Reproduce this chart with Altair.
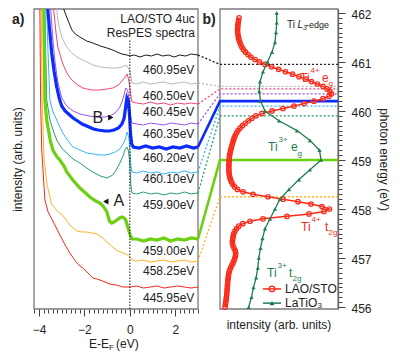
import altair as alt
import pandas as pd

FONT = "Liberation Sans"

# ---------------- panel a: ResPES spectra (E - E_F in eV, intensity in arb. units) ----------------
SPEC_LABELS = ["460.95", "460.50", "460.45", "460.35", "460.20",
               "460.10", "459.90", "459.00", "458.25", "445.95"]
SPEC_COLORS = ["#1a1a1a", "#b9b9b9", "#f0457c", "#a04ff0", "#0b2bff",
               "#33b6f3", "#23a06d", "#6bcf12", "#ffb320", "#f2291c"]
THICK = ["460.20", "459.00"]

SPEC_E = [
    [-3.05, -2.9, -2.73, -2.55, -2.4, -2.2, -1.9, -1.63, -1.3, -1.01, -0.75, -0.57, -0.35, -0.13, 0.0,
     0.2, 0.45, 0.7, 0.95, 1.2, 1.45, 1.7, 1.95, 2.2, 2.45, 2.7, 3.0],
    [-3.3, -3.22, -3.13, -3.0, -2.78, -2.55, -2.33, -1.98, -1.63, -1.3, -0.88, -0.6, -0.35, -0.15, 0.0,
     0.1, 0.3, 0.6, 0.9, 1.2, 1.5, 1.8, 2.1, 2.4, 2.7, 3.0],
    [-3.42, -3.35, -3.25, -3.17, -2.95, -2.75, -2.56, -2.3, -2.07, -1.7, -1.32, -1.0, -0.75, -0.5, -0.31,
     -0.2, -0.12, -0.06, 0.0, 0.05, 0.1, 0.3, 0.6, 0.9, 1.2, 1.5, 1.8, 2.1, 2.4, 2.7, 3.0],
    [-3.55, -3.48, -3.4, -3.3, -3.17, -3.0, -2.78, -2.5, -2.2, -1.8, -1.45, -1.1, -0.88, -0.65, -0.44,
     -0.3, -0.18, -0.1, -0.04, 0.02, 0.09, 0.3, 0.6, 0.9, 1.2, 1.5, 1.8, 2.1, 2.4, 2.7, 3.0],
    [-3.68, -3.61, -3.52, -3.44, -3.33, -3.22, -3.1, -3.0, -2.85, -2.7, -2.5, -2.3, -2.1, -1.9, -1.6,
     -1.4, -1.1, -0.9, -0.7, -0.5, -0.35, -0.25, -0.18, -0.13, -0.07, -0.02, 0.03, 0.08, 0.15, 0.4,
     0.7, 1.0, 1.3, 1.6, 1.9, 2.2, 2.5, 2.8, 3.0],
    [-3.72, -3.66, -3.6, -3.52, -3.4, -3.22, -3.08, -2.95, -2.75, -2.51, -2.2, -1.89, -1.6, -1.32, -1.1,
     -0.88, -0.65, -0.44, -0.3, -0.2, -0.12, -0.05, 0.0, 0.04, 0.09, 0.3, 0.6, 0.9, 1.2, 1.5, 1.8,
     2.1, 2.4, 2.7, 3.0],
    [-3.8, -3.74, -3.7, -3.66, -3.52, -3.35, -3.22, -3.0, -2.78, -2.5, -2.2, -1.9, -1.63, -1.3, -1.01,
     -0.75, -0.6, -0.44, -0.3, -0.22, -0.13, -0.06, 0.0, 0.04, 0.09, 0.3, 0.6, 0.9, 1.2, 1.5, 1.8,
     2.1, 2.4, 2.7, 3.0],
    [-3.85, -3.79, -3.76, -3.74, -3.66, -3.5, -3.39, -3.2, -3.08, -2.9, -2.78, -2.51, -2.2, -1.95, -1.76,
     -1.5, -1.32, -1.15, -1.01, -0.9, -0.8, -0.7, -0.57, -0.45, -0.35, -0.25, -0.18, -0.09, 0.0, 0.09,
     0.3, 0.6, 0.9, 1.2, 1.5, 1.8, 2.1, 2.4, 2.7, 3.0],
    [-3.95, -3.9, -3.86, -3.78, -3.65, -3.45, -3.2, -2.97, -2.8, -2.64, -2.33, -2.1, -1.9, -1.65, -1.45,
     -1.2, -1.01, -0.8, -0.6, -0.4, -0.2, -0.1, 0.0, 0.1, 0.3, 0.6, 0.9, 1.2, 1.5, 1.8, 2.1, 2.4,
     2.7, 3.0],
    [-4.0, -3.96, -3.93, -3.88, -3.8, -3.74, -3.6, -3.39, -3.08, -2.85, -2.64, -2.4, -2.2, -2.07, -1.8,
     -1.63, -1.45, -1.2, -0.88, -0.6, -0.31, 0.0, 0.3, 0.6, 0.9, 1.2, 1.5, 1.8, 2.1, 2.4, 2.7, 3.0],
]
SPEC_I = [
    [320, 299, 289, 279, 275, 272, 268, 266, 263, 261, 259, 257, 255, 254, 253,
     254, 252, 254, 253, 255, 253, 254, 252, 254, 253, 255, 254],
    [320, 299, 284, 272, 262, 256, 252, 248, 244, 242, 241, 241, 242, 244, 238,
     226, 225, 227, 225, 226, 227, 225, 226, 227, 225, 226],
    [320, 299, 276, 262, 245, 235, 229, 224, 221, 219, 219, 220, 221, 224, 229,
     232, 235, 230, 222, 212, 207, 206, 205, 207, 205, 206, 204, 206, 205, 206, 205],
    [320, 299, 272, 248, 227, 211, 203, 198, 195, 193, 192, 192, 193, 196, 202,
     210, 221, 219, 210, 195, 186, 185, 184, 186, 185, 184, 186, 185, 184, 186, 185],
    [320, 299, 276, 256, 237, 222, 210, 203, 198, 195, 191, 188, 185, 183, 180,
     179, 178, 178, 179, 181, 185, 191, 203, 211, 208, 196, 175, 165, 162, 161,
     163, 161, 162, 160, 162, 161, 163, 161, 162],
    [320, 299, 255, 209, 198, 189, 182, 176, 169, 162, 159, 156, 155, 154, 154,
     155, 157, 160, 165, 170, 177, 172, 160, 145, 137, 136, 138, 136, 137, 135, 137,
     136, 138, 136, 137],
    [320, 299, 250, 209, 189, 177, 169, 161, 156, 150, 146, 141, 137, 133, 131,
     134, 139, 146, 153, 159, 162, 158, 145, 125, 116, 115, 117, 115, 116, 114, 116,
     115, 117, 115, 116],
    [320, 299, 250, 209, 189, 168, 159, 152, 149, 143, 137, 129, 121, 116, 112,
     108, 106, 102, 97, 88, 86, 87, 89, 91, 92, 91, 89, 82, 75, 70,
     70, 68, 70, 69, 71, 68, 70, 69, 71, 70],
    [320, 299, 209, 150, 125, 105, 98, 94, 89, 84, 78, 77, 77, 76, 75,
     71, 67, 63, 59, 57, 55, 54, 52, 49, 48, 49, 47, 48, 49, 47, 48, 49,
     47, 48],
    [320, 299, 209, 160, 130, 109, 97, 88, 74, 64, 56, 48, 43, 41, 35,
     31, 30, 28, 25, 24, 22, 22, 23, 21, 22, 23, 21, 22, 23, 22, 21, 22],
]

# ---------------- panel b: Ti L3-edge XAS (photon energy in eV, intensity in arb. units) ----------------
LAO_E = [
    456.00, 456.05, 456.10, 456.15, 456.20, 456.25, 456.30, 456.35, 456.40, 456.45,
    456.50, 456.55, 456.60, 456.65, 456.70, 456.75, 456.80, 456.85, 456.90, 456.95,
    457.00, 457.05, 457.10, 457.15, 457.20, 457.25, 457.30, 457.35, 457.40, 457.45,
    457.50, 457.55, 457.60, 457.65, 457.70, 457.75, 457.80, 457.85, 457.90, 457.95,
    458.00, 458.05, 458.10, 458.15, 458.20, 458.25, 458.30, 458.35, 458.40, 458.45,
    458.50, 458.55, 458.60, 458.65, 458.70, 458.75, 458.80, 458.85, 458.90, 458.95,
    459.00, 459.05, 459.10, 459.15, 459.20, 459.25, 459.30, 459.35, 459.40, 459.45,
    459.50, 459.55, 459.60, 459.65, 459.70, 459.75, 459.80, 459.85, 459.90, 459.95,
    460.00, 460.05, 460.10, 460.15, 460.20, 460.25, 460.30, 460.35, 460.40, 460.45,
    460.50, 460.55, 460.60, 460.65, 460.70, 460.75, 460.80, 460.85, 460.90, 460.95,
    461.00, 461.05, 461.10, 461.15, 461.20, 461.25, 461.30, 461.35, 461.40, 461.45,
    461.50, 461.55, 461.60, 461.65, 461.70, 461.75, 461.80, 461.85, 461.90,
]
LAO_I = [
    5.0, 5.4, 5.8, 6.1, 6.4, 6.7, 6.9, 7.1, 7.3, 7.5,
    7.7, 7.9, 8.2, 8.5, 8.9, 9.6, 10.6, 11.8, 13.0, 14.0,
    14.9, 15.5, 15.7, 15.2, 14.1, 13.0, 12.4, 12.4, 12.8, 13.2,
    13.8, 15.0, 16.6, 18.8, 22.8, 30.0, 43.0, 67.0, 89.0, 104.0,
    109.5, 102.0, 91.0, 78.0, 63.0, 48.0, 33.0, 23.0, 17.5, 14.8,
    12.8, 11.5, 10.5, 9.8, 9.3, 9.0, 8.9, 8.9, 8.9, 9.0,
    9.1, 9.3, 9.6, 10.1, 10.7, 11.3, 12.0, 12.7, 13.4, 14.2,
    15.2, 16.4, 18.0, 20.0, 22.4, 25.2, 28.4, 32.0, 36.0, 42.0,
    52.0, 63.0, 74.0, 84.0, 94.0, 103.0, 109.0, 111.5, 110.0, 107.0,
    103.0, 97.5, 91.5, 85.5, 79.0, 72.5, 65.5, 58.5, 51.5, 45.0,
    39.5, 35.0, 31.0, 28.0, 25.5, 23.5, 22.0, 20.8, 19.8, 19.0,
    18.4, 18.0, 17.7, 17.6, 17.7, 17.9, 18.2, 18.6, 19.0,
]
LTO_E = [456.0, 456.2, 456.4, 456.6, 456.8, 457.0, 457.2, 457.4, 457.6, 457.8,
         458.0, 458.2, 458.4, 458.6, 458.8, 459.0, 459.2, 459.4, 459.6, 459.8,
         460.0, 460.2, 460.4, 460.6, 460.8, 461.0, 461.2, 461.4, 461.6, 461.8, 462.0]
LTO_I = [28.7, 31.5, 33.5, 36.2, 37.8, 38.8, 40.5, 42.5, 45.0, 50.0,
         55.0, 60.0, 69.0, 79.0, 90.0, 101.0, 99.5, 90.0, 77.0, 59.0,
         45.0, 40.5, 39.3, 40.0, 43.0, 47.5, 52.0, 55.0, 56.0, 56.7, 56.7]

RED = "#fa2a18"
GREEN = "#1e7f4f"
TXT = "#222222"
FRAME = "#7a7a7a"

# ---------------- geometry: one plot area, panel a on the left, panel b on the right ----------------
W_A, W_B, H = 164, 140, 300
A_X = [-4.22, 3.0]
A_Y = [0, 300]
B_X = [-22, 118]          # gap between the panels, then the frame of panel b from 0 to 118
B_Y = [455.96, 462.08]
xa = alt.Scale(domain=A_X, range=[0, W_A], nice=False, zero=False)
ya = alt.Scale(domain=A_Y, range=[H, 0], nice=False, zero=False)
xb = alt.Scale(domain=B_X, range=[W_A, W_A + W_B], nice=False, zero=False)
yb = alt.Scale(domain=B_Y, range=[H, 0], nice=False, zero=False)
cscale = alt.Scale(domain=SPEC_LABELS, range=SPEC_COLORS)

ax_major = alt.Axis(values=[-4, -2, 0, 2], tickSize=7, labelFontSize=12, labelPadding=8,
                    domain=False, grid=False, title=None, labelFlush=False, orient="bottom")
ax_minor = alt.Axis(values=[round(-4.2 + 0.2 * i, 1) for i in range(37)], tickSize=4,
                    labels=False, domain=False, grid=False, title=None, orient="bottom")
ay_title = alt.Axis(title="intensity (arb. units)", ticks=False, labels=False, domain=False,
                    grid=False, titleFontSize=12, titleFontWeight="normal", titlePadding=10,
                    orient="left")
by_major = alt.Axis(orient="right", values=[456, 457, 458, 459, 460, 461, 462], tickSize=7,
                    labelFontSize=12, labelPadding=6, labelOffset=1.5, domain=True, domainWidth=1.2,
                    grid=False, title="photon energy (eV)", titleFontSize=12, titleFontWeight="normal",
                    titlePadding=5, labelFlush=False)
by_minor = alt.Axis(orient="right", values=[round(456 + 0.1 * i, 1) for i in range(61)], tickSize=4,
                    labels=False, domain=False, grid=False, title=None)

# ---------------- panel a ----------------
rows = []
for lab, es, ins in zip(SPEC_LABELS, SPEC_E, SPEC_I):
    for k, (e, v) in enumerate(zip(es, ins)):
        rows.append({"series": lab, "E": e, "I": v, "k": k, "thick": lab in THICK})
spec_df = pd.DataFrame(rows)

frame_a = alt.Chart(pd.DataFrame({"x0": [A_X[0]], "x1": [A_X[1]], "y0": [A_Y[0]], "y1": [A_Y[1]]})).mark_rect(
    fillOpacity=0, stroke=FRAME, strokeWidth=1.3).encode(
    x=alt.X("x0:Q", scale=xa, axis=ax_major), x2="x1",
    y=alt.Y("y0:Q", scale=ya, axis=ay_title), y2="y1")

thin = alt.Chart(spec_df[~spec_df["thick"]]).mark_line(clip=True, strokeWidth=1).encode(
    x=alt.X("E:Q", scale=xa, axis=None),
    y=alt.Y("I:Q", scale=ya, axis=None),
    color=alt.Color("series:N", scale=cscale, legend=None),
    order="k:Q",
)
thick = alt.Chart(spec_df[spec_df["thick"]]).mark_line(clip=True, strokeWidth=3.2).encode(
    x=alt.X("E:Q", scale=xa, axis=None),
    y=alt.Y("I:Q", scale=ya, axis=None),
    color=alt.Color("series:N", scale=cscale, legend=None),
    order="k:Q",
)
ef_rule = alt.Chart(pd.DataFrame({"E": [0.0], "y0": [0], "y1": [269]})).mark_rule(
    color="#111", strokeDash=[1.5, 1.5], strokeWidth=1).encode(
    x=alt.X("E:Q", scale=xa, axis=ax_minor), y=alt.Y("y0:Q", scale=ya, axis=None), y2="y1")

LABEL_Y = [239, 213, 197, 175, 151, 130, 104, 58, 38, 11]
lab_df = pd.DataFrame({"text": [s + "eV" for s in SPEC_LABELS], "y": LABEL_Y, "E": [2.84] * len(LABEL_Y)})
spec_text = alt.Chart(lab_df).mark_text(align="right", baseline="middle", fontSize=12, font=FONT,
                                        color=TXT).encode(
    x=alt.X("E:Q", scale=xa, axis=None), y=alt.Y("y:Q", scale=ya, axis=None), text="text:N")

hdr_df = pd.DataFrame({"text": ["LAO/STO 4uc", "ResPES spectra"], "E": [2.86, 2.86], "y": [290, 276]})
hdr = alt.Chart(hdr_df).mark_text(align="right", baseline="middle", fontSize=12, font=FONT,
                                  color=TXT).encode(
    x=alt.X("E:Q", scale=xa, axis=None), y=alt.Y("y:Q", scale=ya, axis=None), text="text:N")
feat_df = pd.DataFrame({"text": ["B", "A"], "E": [-1.41, -0.48], "y": [191.5, 108]})
feat = alt.Chart(feat_df).mark_text(align="center", baseline="middle", fontSize=16, font=FONT,
                                    color=TXT).encode(
    x=alt.X("E:Q", scale=xa, axis=None), y=alt.Y("y:Q", scale=ya, axis=None), text="text:N")
arrows = pd.DataFrame({"E": [-0.84, -1.06], "y": [191.5, 107.5], "shape": ["triangle-right", "triangle-left"]})
arrow_marks = alt.Chart(arrows).mark_point(filled=True, size=38, color="#111", opacity=1).encode(
    x=alt.X("E:Q", scale=xa, axis=None), y=alt.Y("y:Q", scale=ya, axis=None),
    shape=alt.Shape("shape:N", scale=None, legend=None))

one = pd.DataFrame({"a": [0]})
a_tag = alt.Chart(one).mark_text(text="a)", align="left", baseline="middle", fontSize=14,
                                 fontWeight="bold", font=FONT, color=TXT).encode(
    x=alt.value(-22), y=alt.value(11))
xt1 = alt.Chart(one).mark_text(text="E-E", align="left", baseline="middle", fontSize=12, font=FONT,
                               color=TXT).encode(x=alt.value(55), y=alt.value(335))
xt2 = alt.Chart(one).mark_text(text="F", align="left", baseline="middle", fontSize=8, font=FONT,
                               color=TXT).encode(x=alt.value(75), y=alt.value(339))
xt3 = alt.Chart(one).mark_text(text="(eV)", align="left", baseline="middle", fontSize=12, font=FONT,
                               color=TXT).encode(x=alt.value(82), y=alt.value(335))

# ---------------- panel b ----------------
frame_b = alt.Chart(pd.DataFrame({"x0": [0], "x1": [118], "e0": [B_Y[0]], "e1": [B_Y[1]]})).mark_rect(
    fillOpacity=0, stroke=FRAME, strokeWidth=1.3).encode(
    x=alt.X("x0:Q", scale=xb, axis=None), x2="x1",
    y=alt.Y("e0:Q", scale=yb, axis=by_major), y2="e1")

crow = []
per_unit = (B_Y[1] - B_Y[0]) / (A_Y[1] - A_Y[0])
for lab, ins in zip(SPEC_LABELS, SPEC_I):
    e_ph = float(lab)
    if e_ph < B_Y[0]:
        continue
    e_tail = B_Y[0] + ins[-1] * per_unit
    for k, (x, e) in enumerate([(B_X[0], e_tail), (0, e_ph), (118, e_ph)]):
        crow.append({"series": lab, "x": x, "E": e, "k": k, "thick": lab in THICK})
conn_df = pd.DataFrame(crow)
conn_dot = alt.Chart(conn_df[~conn_df["thick"]]).mark_line(strokeDash=[2, 2], strokeWidth=1.3).encode(
    x=alt.X("x:Q", scale=xb, axis=None), y=alt.Y("E:Q", scale=yb, axis=by_minor),
    color=alt.Color("series:N", scale=cscale, legend=None), order="k:Q")
conn_solid = alt.Chart(conn_df[conn_df["thick"]]).mark_line(strokeWidth=2.6).encode(
    x=alt.X("x:Q", scale=xb, axis=None), y=alt.Y("E:Q", scale=yb, axis=None),
    color=alt.Color("series:N", scale=cscale, legend=None), order="k:Q")

lao_df = pd.DataFrame({"E": LAO_E, "I": LAO_I})
lto_df = pd.DataFrame({"E": LTO_E, "I": LTO_I})
lao_line = alt.Chart(lao_df).mark_line(color=RED, strokeWidth=1.5).encode(
    x=alt.X("I:Q", scale=xb, axis=None), y=alt.Y("E:Q", scale=yb, axis=None), order="E:Q")
lao_pts = alt.Chart(lao_df).mark_point(shape="circle", filled=False, size=20, strokeWidth=1.2,
                                       color=RED, opacity=1).encode(
    x=alt.X("I:Q", scale=xb, axis=None), y=alt.Y("E:Q", scale=yb, axis=None))
lto_line = alt.Chart(lto_df).mark_line(color=GREEN, strokeWidth=1.3).encode(
    x=alt.X("I:Q", scale=xb, axis=None), y=alt.Y("E:Q", scale=yb, axis=None), order="E:Q")
lto_pts = alt.Chart(lto_df).mark_point(shape="triangle-up", filled=True, size=18, color=GREEN,
                                       opacity=1).encode(
    x=alt.X("I:Q", scale=xb, axis=None), y=alt.Y("E:Q", scale=yb, axis=None))


def text_layer(items, **kw):
    df = pd.DataFrame(items, columns=["text", "x", "E", "size", "color"])
    return alt.Chart(df).mark_text(baseline="middle", font=FONT, **kw).encode(
        x=alt.X("x:Q", scale=xb, axis=None), y=alt.Y("E:Q", scale=yb, axis=None), text="text:N",
        size=alt.Size("size:Q", scale=None, legend=None),
        color=alt.Color("color:N", scale=None, legend=None))


ann_b = text_layer([
    ("Ti", 67, 461.755, 10, TXT), ("-edge", 86, 461.755, 9, TXT),
    ("Ti", 80, 460.67, 12, RED), ("4+", 90.5, 460.82, 8, RED), ("e", 102, 460.67, 12, RED),
    ("g", 108.5, 460.55, 8, RED),
    ("Ti", 48, 459.27, 12, GREEN), ("3+", 58.5, 459.41, 8, GREEN), ("e", 71, 459.27, 12, GREEN),
    ("g", 77.5, 459.12, 8, GREEN),
    ("Ti", 81, 457.63, 12, RED), ("4+", 91.5, 457.78, 8, RED), ("t", 105, 457.63, 12, RED),
    ("2g", 108.5, 457.51, 8, RED),
    ("Ti", 47, 456.69, 12, GREEN), ("3+", 57.5, 456.84, 8, GREEN), ("t", 69, 456.69, 12, GREEN),
    ("2g", 72.5, 456.58, 8, GREEN),
    ("LAO/STO", 65, 456.37, 12, TXT), ("LaTiO", 65, 456.08, 12, TXT), ("3", 97.5, 456.02, 8, TXT),
], align="left")
ann_b_it = text_layer([("L", 77.5, 461.755, 10, TXT), ("3", 83, 461.69, 7, TXT)],
                      align="left", fontStyle="italic")
b_tag = text_layer([("b)", -11, 461.86, 14, TXT)], align="center", fontWeight="bold")
b_xtitle = alt.Chart(pd.DataFrame({"x": [59]})).mark_text(
    text="intensity (arb. units)", align="center", baseline="middle", fontSize=12, font=FONT,
    color=TXT).encode(x=alt.X("x:Q", scale=xb, axis=None), y=alt.value(316))

leg_lines = pd.DataFrame({"x0": [43, 43], "x1": [61, 61], "E": [456.37, 456.08], "c": [RED, GREEN]})
leg_rule = alt.Chart(leg_lines).mark_rule(strokeWidth=1.5).encode(
    x=alt.X("x0:Q", scale=xb, axis=None), x2="x1", y=alt.Y("E:Q", scale=yb, axis=None),
    color=alt.Color("c:N", scale=None, legend=None))
leg_c = alt.Chart(pd.DataFrame({"x": [52], "E": [456.37]})).mark_point(
    shape="circle", filled=False, size=30, strokeWidth=1.3, color=RED, opacity=1).encode(
    x=alt.X("x:Q", scale=xb, axis=None), y=alt.Y("E:Q", scale=yb, axis=None))
leg_t = alt.Chart(pd.DataFrame({"x": [52], "E": [456.08]})).mark_point(
    shape="triangle-up", filled=True, size=26, color=GREEN, opacity=1).encode(
    x=alt.X("x:Q", scale=xb, axis=None), y=alt.Y("E:Q", scale=yb, axis=None))

chart = alt.layer(
    frame_a, thin, thick, ef_rule, spec_text, hdr, feat, arrow_marks, a_tag, xt1, xt2, xt3,
    frame_b, conn_dot, conn_solid, lao_line, lao_pts, lto_line, lto_pts,
    ann_b, ann_b_it, b_tag, b_xtitle, leg_rule, leg_c, leg_t,
).resolve_scale(
    x="independent", y="independent", color="independent"
).resolve_axis(
    x="independent", y="independent"
).properties(
    width=W_A + W_B, height=H,
    autosize=alt.AutoSizeParams(type="none"),
    padding={"left": 26, "top": 1, "right": 54, "bottom": 47},
    view=alt.ViewBackground(stroke="transparent"),
).configure_axis(
    labelFont=FONT, titleFont=FONT, labelColor=TXT, titleColor=TXT,
    tickColor="#444", domainColor="#444"
)

chart.save("out.html", embed_options={"renderer": "svg", "actions": False})
